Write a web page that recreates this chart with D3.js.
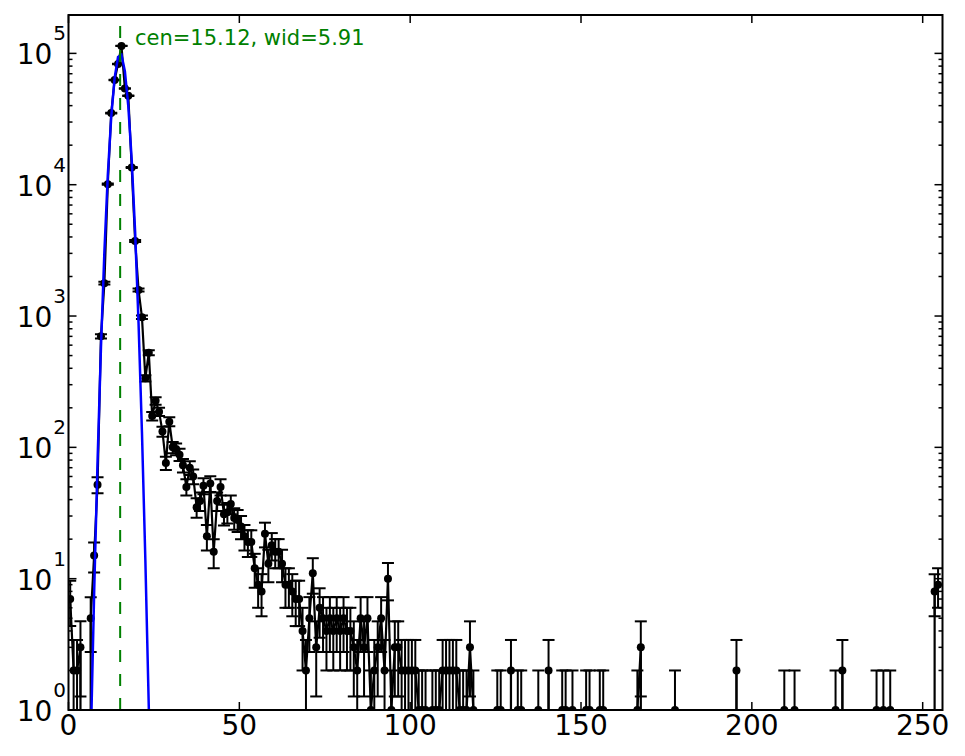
<!DOCTYPE html>
<html><head><meta charset="utf-8">
<script src="https://cdn.jsdelivr.net/npm/d3@7"></script>
<style>body{margin:0;background:#fff} svg{display:block}</style>
</head><body>
<svg id="c" width="965" height="756"></svg>
<script>
// histogram counts, one per unit-wide bin starting at 0 (bin centre = index + 0.5)
const counts = [
  7, 2, 2, 3, 0, 0, 5, 15, 52, 700,
  1780, 10100, 35100, 62800, 83000, 114000, 54000, 47500, 13500, 3730,
  1580, 980, 336, 526, 173, 226, 187, 132, 76, 157,
  100, 97, 88, 73, 50, 70, 60, 35, 39, 51,
  21, 53, 16, 39, 50, 31, 32, 37, 29, 28,
  25, 21, 19, 19, 12, 9, 8, 22, 13, 18,
  16, 16, 13, 9, 9, 8, 7, 7, 4, 2,
  5, 11, 3, 6, 5, 4, 5, 4, 5, 4,
  5, 4, 4, 3, 2, 5, 3, 5, 1, 2,
  3, 5, 2, 10, 1, 3, 3, 2, 2, 2,
  2, 2, 1, 1, 1, 0, 1, 1, 1, 2,
  2, 2, 2, 2, 1, 1, 1, 3, 1, 0,
  0, 0, 0, 0, 0, 1, 1, 0, 0, 2,
  0, 1, 1, 0, 0, 0, 0, 1, 0, 0,
  2, 0, 0, 0, 1, 1, 0, 1, 0, 0,
  0, 1, 1, 0, 0, 1, 1, 0, 0, 0,
  0, 0, 0, 0, 0, 0, 1, 3, 0, 0,
  0, 0, 0, 0, 0, 0, 0, 1, 0, 0,
  0, 0, 0, 0, 0, 0, 0, 0, 0, 0,
  0, 0, 0, 0, 0, 2, 0, 0, 0, 0,
  0, 0, 0, 0, 0, 0, 0, 0, 0, 1,
  0, 0, 1, 0, 0, 0, 0, 0, 0, 0,
  0, 0, 0, 0, 1, 0, 2, 0, 0, 0,
  0, 0, 0, 0, 0, 0, 1, 0, 1, 0,
  1, 0, 0, 0, 0, 0, 0, 0, 0, 0,
  0, 0, 0, 8, 9
];
// fitted curve
const fitX = [5.5, 6.5, 7.5, 8.5, 9.5, 10.5, 11.5, 12.5, 13.5, 14.5,
              15.5, 16.5, 17.5, 18.5, 19.5, 20.5, 21.5, 22.5, 23.5, 24.5];
const fitY = [0.027, 0.54, 7.6, 78, 575, 3070, 11800, 32600, 65100, 93900,
              97700, 73300, 39700, 15500, 4370, 887, 130, 13.7, 1.05, 0.058];
const fitCenter = 15.12;
const fitLabel = "cen=15.12, wid=5.91";
const xTickValues = [0, 50, 100, 150, 200, 250];
const xTickLabels = ["0", "50", "100", "150", "200", "250"];
const yTickExponents = ["0", "1", "2", "3", "4", "5"];
const xDomain = [0, 255.8];
const yDomain = [1, 1.96e5];

const W = 965, H = 756, L = 68.5, R = 942.5, T = 15, B = 710;
const FONT = "DejaVu Sans, sans-serif";
const svg = d3.select('#c');
const x = d3.scaleLinear().domain(xDomain).range([L, R]);
const y = d3.scaleLog().domain(yDomain).range([B, T]);
const FLOOR = 1e-100;
const fy = v => y(Math.max(v, FLOOR));

svg.append('rect').attr('width', W).attr('height', H).attr('fill', '#fff');
svg.append('defs').append('clipPath').attr('id', 'clip')
  .append('rect').attr('x', L).attr('y', T).attr('width', R - L).attr('height', B - T);
const g = svg.append('g').attr('clip-path', 'url(#clip)');

const pts = counts.map((c, i) => ({ x: i + 0.5, c }));

// data line
g.append('path').datum(pts)
  .attr('d', d3.line().x(d => x(d.x)).y(d => fy(d.c)))
  .attr('fill', 'none').attr('stroke', '#000').attr('stroke-width', 2.2)
  .attr('stroke-linejoin', 'round');

// error bars
const nz = pts.filter(d => d.c > 0);
const eb = g.append('g').attr('stroke', '#000').attr('stroke-width', 2);
nz.forEach(d => {
  const s = Math.sqrt(d.c), lo = d.c - s, hi = d.c + s, px = x(d.x);
  eb.append('line').attr('x1', px).attr('x2', px).attr('y1', fy(lo)).attr('y2', fy(hi));
  eb.append('line').attr('x1', px - 6).attr('x2', px + 6).attr('y1', fy(hi)).attr('y2', fy(hi));
  if (lo > 0) eb.append('line').attr('x1', px - 6).attr('x2', px + 6).attr('y1', fy(lo)).attr('y2', fy(lo));
});

// markers
g.append('g').selectAll('circle').data(nz).join('circle')
  .attr('cx', d => x(d.x)).attr('cy', d => fy(d.c)).attr('r', 4).attr('fill', '#000');

// fit line
const fitPts = fitX.map((v, i) => ({ x: v, v: fitY[i] }));
g.append('path').datum(fitPts)
  .attr('d', d3.line().x(d => x(d.x)).y(d => fy(d.v)))
  .attr('fill', 'none').attr('stroke', '#0000ff').attr('stroke-width', 2.5);

// centre line
g.append('line').attr('x1', x(fitCenter)).attr('x2', x(fitCenter)).attr('y1', B).attr('y2', T)
  .attr('stroke', '#008000').attr('stroke-width', 2).attr('stroke-dasharray', '12,12');

// label
svg.append('text').attr('x', 135).attr('y', 44.5).attr('fill', '#008000')
  .attr('font-family', FONT).attr('font-size', 21).text(fitLabel);

// ticks
const tk = svg.append('g').attr('stroke', '#000').attr('stroke-width', 1.5);
xTickValues.forEach(v => {
  const px = x(v);
  tk.append('line').attr('x1', px).attr('x2', px).attr('y1', B).attr('y2', B - 8);
  tk.append('line').attr('x1', px).attr('x2', px).attr('y1', T).attr('y2', T + 8);
});
y.ticks().forEach(v => {
  const e = Math.log10(v);
  const major = Math.abs(e - Math.round(e)) < 1e-9;
  const len = major ? 8 : 4;
  const py = y(v);
  tk.append('line').attr('x1', L).attr('x2', L + len).attr('y1', py).attr('y2', py);
  tk.append('line').attr('x1', R).attr('x2', R - len).attr('y1', py).attr('y2', py);
});

// tick labels
const lab = svg.append('g').attr('font-family', FONT).attr('fill', '#000');
xTickValues.forEach((v, i) => {
  lab.append('text').attr('x', x(v)).attr('y', 735).attr('text-anchor', 'middle')
    .attr('font-size', 28).text(xTickLabels[i]);
});
yTickExponents.forEach(ex => {
  const py = y(Math.pow(10, +ex));
  const t = lab.append('text').attr('x', 66).attr('y', py + 11).attr('text-anchor', 'end')
    .attr('font-size', 28);
  t.append('tspan').text('10');
  t.append('tspan').attr('dx', 1).attr('dy', -24).attr('font-size', 20).text(ex);
});

// frame
svg.append('rect').attr('x', L).attr('y', T).attr('width', R - L).attr('height', B - T)
  .attr('fill', 'none').attr('stroke', '#000').attr('stroke-width', 2);
</script>
</body></html>
